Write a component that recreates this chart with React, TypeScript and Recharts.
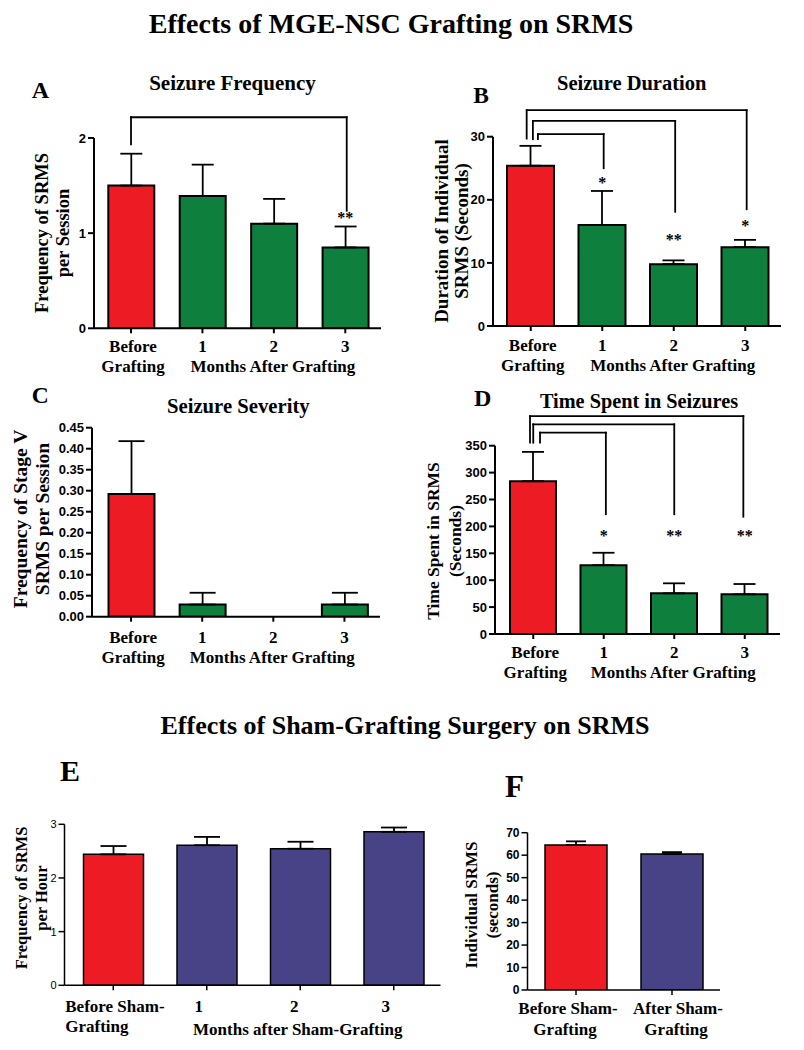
import React from 'react';
import { BarChart, Bar, XAxis, YAxis, ErrorBar, ReferenceLine, ReferenceDot, Cell } from 'recharts';

const SERIF = '"Liberation Serif", "Times New Roman", Times, serif';
const SANS = '"Liberation Sans", Arial, Helvetica, sans-serif';
const RED = '#ed1c24';
const GREEN = '#0f7f3e';
const NAVY = '#474386';

// ---------------- data ----------------
const graftCategories = ['Before Grafting', 'Month 1', 'Month 2', 'Month 3'];
const graftColors = [RED, GREEN, GREEN, GREEN];
const graftTickTop = ['Before', '1', '2', '3'];
const graftTickBottom = ['Grafting', '', 'Months After Grafting', ''];

// A: Seizure Frequency
const freqMeans = [1.5, 1.39, 1.1, 0.85];
const freqSem = [0.335, 0.33, 0.26, 0.22];
const freqTicks = [0, 1, 2];

// B: Seizure Duration
const durMeans = [25.4, 16.0, 9.8, 12.5];
const durSem = [3.15, 5.4, 0.6, 1.15];
const durTicks = [0, 10, 20, 30];

// C: Seizure Severity
const sevMeans = [0.292, 0.029, 0, 0.029];
const sevSem = [0.126, 0.028, 0, 0.028];
const sevTicks = [0, 0.05, 0.1, 0.15, 0.2, 0.25, 0.3, 0.35, 0.4, 0.45];

// D: Time Spent in Seizures
const timeMeans = [284, 128, 75.6, 73.8];
const timeSem = [54.5, 23, 18.6, 19.1];
const timeTicks = [0, 50, 100, 150, 200, 250, 300, 350];

// E: Sham frequency
const shamCategories = ['Before Sham-Grafting', 'Month 1', 'Month 2', 'Month 3'];
const shamColors = [RED, NAVY, NAVY, NAVY];
const shamTickTop = ['Before Sham-', '1', '2', '3'];
const shamTickBottom = ['Grafting', '', 'Months after Sham-Grafting', ''];
const shamFreqMeans = [2.44, 2.61, 2.545, 2.86];
const shamFreqSem = [0.155, 0.155, 0.13, 0.08];
const shamFreqTicks = [0, 1, 2, 3];

// F: Sham duration
const shamDurCategories = ['Before Sham-Grafting', 'After Sham-Grafting'];
const shamDurColors = [RED, NAVY];
const shamDurTickTop = ['Before Sham-', 'After Sham-'];
const shamDurTickBottom = ['Grafting', 'Grafting'];
const shamDurMeans = [64.5, 60.5];
const shamDurSem = [1.65, 0.85];
const shamDurTicks = [0, 10, 20, 30, 40, 50, 60, 70];

// significance brackets: x in category-index units, y in data units
const bracketsA = [{ x1: 0, x2: 3.02, top: 2.218, y1: 1.934, y2: 1.235 }];
const starsA = [{ x: 3, y: 1.19, text: '**' }];

const bracketsB = [
  { x1: -0.057, x2: 3.02, top: 34.2, y1: 29.7, y2: 18.5 },
  { x1: 0.03, x2: 2.02, top: 32.5, y1: 29.6, y2: 18.1 },
  { x1: 0.1, x2: 1.02, top: 30.4, y1: 29.6, y2: 25.0 },
];
const starsB = [
  { x: 1, y: 23.2, text: '*' },
  { x: 2, y: 14.15, text: '**' },
  { x: 3, y: 16.4, text: '*' },
];

const bracketsD = [
  { x1: -0.046, x2: 2.98, top: 405, y1: 355.6, y2: 218 },
  { x1: 0, x2: 2.0, top: 389.8, y1: 355.6, y2: 222.6 },
  { x1: 0.096, x2: 1.03, top: 374.2, y1: 355.6, y2: 222.6 },
];
const starsD = [
  { x: 1, y: 187.7, text: '*' },
  { x: 2, y: 187.7, text: '**' },
  { x: 3, y: 187.7, text: '**' },
];

type Row = { name: string; value: number; err: [number, number] };
const toRows = (cats: string[], means: number[], sems: number[]): Row[] =>
  cats.map((name, i) => ({ name, value: means[i], err: [0, sems[i]] }));

type Bracket = { x1: number; x2: number; top: number; y1: number; y2: number };
type Star = { x: number; y: number; text: string };

interface PanelCfg {
  box: { left: number; top: number; width: number; height: number };
  plot: { x0: number; x1: number; y0: number; y1: number };
  padLeft: number;
  rows: Row[];
  colors: string[];
  domain: [number, number];
  ticks: number[];
  fmt?: (v: number) => string;
  barSize: number;
  capHalf: number;
  lineW: number;
  tickTop: string[];
  tickBottom: string[];
  dx1: number[];
  dx2: number[];
  anchor: string[];
  line1: number;
  line2: number[];
  yTickSize: number;
  yTickWeight: string;
  brackets: Bracket[];
  stars: Star[];
}

const Y_W = 60;
const X_H = 60;

function Panel({ cfg }: { cfg: PanelCfg }) {
  const { box, plot } = cfg;
  const margin = {
    left: plot.x0 - box.left - Y_W,
    right: box.left + box.width - plot.x1,
    top: plot.y0 - box.top,
    bottom: box.top + box.height - plot.y1 - X_H,
  };
  const n = cfg.rows.length;
  const band = (plot.x1 - plot.x0 - cfg.padLeft) / n;
  const renderTick = (p: any) => {
    const { x, y, index } = p;
    const a = cfg.anchor[index] as any;
    return (
      <g>
        <text
          x={x + cfg.dx1[index]}
          y={y + cfg.line1}
          textAnchor={a}
          fontFamily={SERIF}
          fontWeight="bold"
          fontSize={17}
          fill="#000"
        >
          {cfg.tickTop[index]}
        </text>
        {cfg.tickBottom[index] ? (
          <text
            x={x + cfg.dx2[index]}
            y={y + cfg.line2[index]}
            textAnchor={a}
            fontFamily={SERIF}
            fontWeight="bold"
            fontSize={17}
            fill="#000"
          >
            {cfg.tickBottom[index]}
          </text>
        ) : null}
      </g>
    );
  };
  const lineProps = { stroke: '#000', strokeWidth: 1.8, strokeLinecap: 'square' as const };
  return (
    <div style={{ position: 'absolute', left: box.left, top: box.top }}>
      <BarChart width={box.width} height={box.height} data={cfg.rows} margin={margin}>
        <XAxis
          dataKey="name"
          interval={0}
          padding={{ left: cfg.padLeft, right: 0 }}
          height={X_H}
          tickSize={5}
          tickMargin={0}
          axisLine={{ stroke: '#000', strokeWidth: cfg.lineW }}
          tickLine={{ stroke: '#000', strokeWidth: cfg.lineW }}
          tick={renderTick}
        />
        <XAxis
          xAxisId="n"
          type="number"
          domain={[0, n - 1]}
          allowDataOverflow
          hide
          padding={{ left: cfg.padLeft + band / 2, right: band / 2 }}
        />
        <YAxis
          width={Y_W}
          domain={cfg.domain}
          ticks={cfg.ticks}
          interval={0}
          allowDataOverflow
          tickSize={6}
          tickMargin={2}
          tickFormatter={cfg.fmt}
          axisLine={{ stroke: '#000', strokeWidth: cfg.lineW }}
          tickLine={{ stroke: '#000', strokeWidth: cfg.lineW }}
          tick={{ fontFamily: SANS, fontWeight: cfg.yTickWeight, fontSize: cfg.yTickSize, fill: '#000' }}
        />
        <Bar dataKey="value" barSize={cfg.barSize} stroke="#000" strokeWidth={cfg.lineW} isAnimationActive={false}>
          {cfg.rows.map((r, i) => (
            <Cell key={r.name} fill={cfg.colors[i]} />
          ))}
          <ErrorBar dataKey="err" direction="y" width={cfg.capHalf} stroke="#000" strokeWidth={1.8} isAnimationActive={false} />
        </Bar>
        {cfg.brackets.flatMap((b, i) => [
          <ReferenceLine key={`h${i}`} xAxisId="n" ifOverflow="visible" segment={[{ x: b.x1, y: b.top }, { x: b.x2, y: b.top }]} {...lineProps} />,
          <ReferenceLine key={`l${i}`} xAxisId="n" ifOverflow="visible" segment={[{ x: b.x1, y: b.top }, { x: b.x1, y: b.y1 }]} {...lineProps} />,
          <ReferenceLine key={`r${i}`} xAxisId="n" ifOverflow="visible" segment={[{ x: b.x2, y: b.top }, { x: b.x2, y: b.y2 }]} {...lineProps} />,
        ])}
        {cfg.stars.map((s, i) => (
          <ReferenceDot
            key={`s${i}`}
            xAxisId="n"
            x={s.x}
            y={s.y}
            r={0}
            ifOverflow="visible"
            fill="none"
            stroke="none"
            label={{
              content: (p: any) => {
                const vb = p.viewBox || {};
                return (
                  <text x={vb.x} y={vb.y + 8} textAnchor="middle" fontFamily={SERIF} fontWeight="bold" fontSize={16} fill="#000">
                    {s.text}
                  </text>
                );
              },
            }}
          />
        ))}
      </BarChart>
    </div>
  );
}

const fmt2 = (v: number) => v.toFixed(2);

const panels: PanelCfg[] = [
  {
    box: { left: 0, top: 60, width: 400, height: 330 },
    plot: { x0: 94, x1: 381, y0: 138, y1: 328.3 },
    padLeft: 1.3,
    rows: toRows(graftCategories, freqMeans, freqSem),
    colors: graftColors,
    domain: [0, 2],
    ticks: freqTicks,
    barSize: 46,
    capHalf: 11,
    lineW: 2,
    tickTop: graftTickTop,
    tickBottom: graftTickBottom,
    dx1: [2, 0, 0, 0],
    dx2: [2, 0, -1, 0],
    anchor: ['middle', 'middle', 'middle', 'middle'],
    line1: 18.7,
    line2: [38.7, 0, 38.7, 0],
    yTickSize: 13,
    yTickWeight: 'bold',
    brackets: bracketsA,
    stars: starsA,
  },
  {
    box: { left: 400, top: 60, width: 404, height: 330 },
    plot: { x0: 493, x1: 781, y0: 136.7, y1: 326 },
    padLeft: 2,
    rows: toRows(graftCategories, durMeans, durSem),
    colors: graftColors,
    domain: [0, 30],
    ticks: durTicks,
    barSize: 47,
    capHalf: 11,
    lineW: 2,
    tickTop: graftTickTop,
    tickBottom: graftTickBottom,
    dx1: [2, 0, 0, 0],
    dx2: [2, 0, -1, 0],
    anchor: ['middle', 'middle', 'middle', 'middle'],
    line1: 20,
    line2: [40, 0, 40, 0],
    yTickSize: 13,
    yTickWeight: 'bold',
    brackets: bracketsB,
    stars: starsB,
  },
  {
    box: { left: 0, top: 380, width: 400, height: 310 },
    plot: { x0: 92, x1: 380, y0: 427.7, y1: 616.7 },
    padLeft: 3.5,
    rows: toRows(graftCategories, sevMeans, sevSem),
    colors: graftColors,
    domain: [0, 0.45],
    ticks: sevTicks,
    fmt: fmt2,
    barSize: 46,
    capHalf: 13,
    lineW: 2,
    tickTop: graftTickTop,
    tickBottom: graftTickBottom,
    dx1: [2, 0, 0, 0],
    dx2: [2, 0, -1, 0],
    anchor: ['middle', 'middle', 'middle', 'middle'],
    line1: 21,
    line2: [41, 0, 41, 0],
    yTickSize: 13,
    yTickWeight: 'bold',
    brackets: [],
    stars: [],
  },
  {
    box: { left: 400, top: 380, width: 404, height: 320 },
    plot: { x0: 495, x1: 780, y0: 445.7, y1: 634 },
    padLeft: 3,
    rows: toRows(graftCategories, timeMeans, timeSem),
    colors: graftColors,
    domain: [0, 350],
    ticks: timeTicks,
    barSize: 46,
    capHalf: 11,
    lineW: 2,
    tickTop: graftTickTop,
    tickBottom: graftTickBottom,
    dx1: [2, 0, 0, 0],
    dx2: [2, 0, -1, 0],
    anchor: ['middle', 'middle', 'middle', 'middle'],
    line1: 19.3,
    line2: [39.3, 0, 39.3, 0],
    yTickSize: 13,
    yTickWeight: 'bold',
    brackets: bracketsD,
    stars: starsD,
  },
  {
    box: { left: 0, top: 750, width: 460, height: 300 },
    plot: { x0: 64.5, x1: 440.5, y0: 824.3, y1: 985.3 },
    padLeft: 2,
    rows: toRows(shamCategories, shamFreqMeans, shamFreqSem),
    colors: shamColors,
    domain: [0, 3],
    ticks: shamFreqTicks,
    barSize: 60,
    capHalf: 13,
    lineW: 1.5,
    tickTop: shamTickTop,
    tickBottom: shamTickBottom,
    dx1: [-48, -8, -6, -8],
    dx2: [-48, 0, -2.5, 0],
    anchor: ['start', 'middle', 'middle', 'middle'],
    line1: 21.4,
    line2: [41.4, 0, 45, 0],
    yTickSize: 11,
    yTickWeight: 'normal',
    brackets: [],
    stars: [],
  },
  {
    box: { left: 450, top: 760, width: 354, height: 290 },
    plot: { x0: 527.5, x1: 720, y0: 832.7, y1: 990 },
    padLeft: 0.5,
    rows: toRows(shamDurCategories, shamDurMeans, shamDurSem),
    colors: shamDurColors,
    domain: [0, 70],
    ticks: shamDurTicks,
    barSize: 62,
    capHalf: 10,
    lineW: 1.5,
    tickTop: shamDurTickTop,
    tickBottom: shamDurTickBottom,
    dx1: [-8, 6],
    dx2: [-11, 4],
    anchor: ['middle', 'middle'],
    line1: 19.3,
    line2: [40, 40],
    yTickSize: 12,
    yTickWeight: 'bold',
    brackets: [],
    stars: [],
  },
];

function YLabel({ lines, xs, cy, fs }: { lines: string[]; xs: number[]; cy: number; fs: number }) {
  return (
    <g>
      {lines.map((l, i) => (
        <text
          key={i}
          transform={`translate(${xs[i]},${cy}) rotate(-90)`}
          textAnchor="middle"
          fontFamily={SERIF}
          fontWeight="bold"
          fontSize={fs}
          fill="#000"
        >
          {l}
        </text>
      ))}
    </g>
  );
}

function T({ x, y, fs, children, anchor = 'middle' }: any) {
  return (
    <text x={x} y={y} fontFamily={SERIF} fontWeight="bold" fontSize={fs} textAnchor={anchor} fill="#000">
      {children}
    </text>
  );
}

export default function App() {
  return (
    <div style={{ position: 'absolute', left: 0, top: 0, width: 804, height: 1050, background: '#fff', overflow: 'hidden' }}>
      {panels.map((p, i) => (
        <Panel key={i} cfg={p} />
      ))}
      <svg width={804} height={1050} style={{ position: 'absolute', left: 0, top: 0, pointerEvents: 'none' }}>
        <T x={391} y={33.3} fs={28}>Effects of MGE-NSC Grafting on SRMS</T>
        <T x={405} y={734.3} fs={26}>Effects of Sham-Grafting Surgery on SRMS</T>

        <T x={31.7} y={98} fs={24} anchor="start">A</T>
        <T x={232.5} y={89.5} fs={21}>Seizure Frequency</T>
        <YLabel lines={['Frequency of SRMS', 'per Session']} xs={[47.5, 68.5]} cy={233} fs={18.5} />

        <T x={473.3} y={102.7} fs={23.5} anchor="start">B</T>
        <T x={631.7} y={90} fs={20.5}>Seizure Duration</T>
        <YLabel lines={['Duration of Individual', 'SRMS (Seconds)']} xs={[447.5, 467.5]} cy={231} fs={19} />

        <T x={31.7} y={402.7} fs={23.5} anchor="start">C</T>
        <T x={238.3} y={412.7} fs={20.7}>Seizure Severity</T>
        <YLabel lines={['Frequency of Stage V', 'SRMS per Session']} xs={[26.5, 49]} cy={519} fs={19.5} />

        <T x={474} y={406} fs={24} anchor="start">D</T>
        <T x={639} y={408.3} fs={20.3}>Time Spent in Seizures</T>
        <YLabel lines={['Time Spent in SRMS', '(Seconds)']} xs={[438.5, 460.5]} cy={541} fs={17.5} />

        <T x={60} y={780.7} fs={30} anchor="start">E</T>
        <YLabel lines={['Frequency of SRMS', 'per Hour']} xs={[26.7, 46.7]} cy={898} fs={16.5} />

        <T x={505} y={796.7} fs={31} anchor="start">F</T>
        <YLabel lines={['Individual SRMS', '(seconds)']} xs={[476.7, 498.3]} cy={905} fs={17} />
      </svg>
    </div>
  );
}
